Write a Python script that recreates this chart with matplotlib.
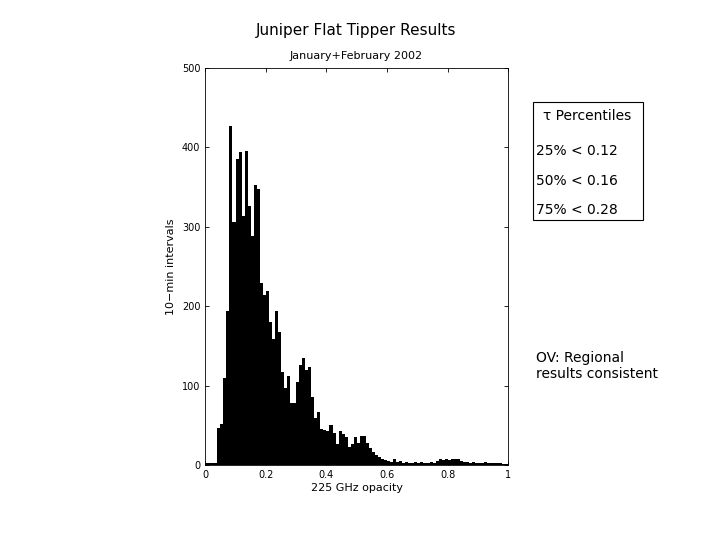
import numpy as np
import matplotlib
matplotlib.use('Agg')
import matplotlib.pyplot as plt

# histogram counts per 0.01 bin of 225 GHz opacity, 0.00 .. 0.99
counts = [2, 2, 2, 2, 47, 52, 109, 194, 427, 306,
          385, 394, 314, 396, 326, 288, 353, 348, 229, 214,
          219, 180, 159, 194, 167, 117, 97, 112, 78, 78,
          104, 126, 135, 120, 124, 86, 59, 67, 45, 44,
          43, 50, 40, 26, 43, 39, 35, 22, 26, 35,
          28, 37, 37, 28, 21, 16, 12, 10, 8, 6,
          5, 4, 8, 4, 5, 3, 4, 3, 3, 4,
          3, 4, 3, 3, 4, 3, 5, 7, 6, 8,
          6, 8, 8, 7, 5, 4, 4, 3, 4, 3,
          3, 2, 4, 2, 3, 2, 2, 3, 1, 1]
bin_width = 0.01
edges = np.arange(len(counts)) * bin_width

fig = plt.figure(figsize=(7.2, 5.4), dpi=100)
ax = fig.add_axes([0.285, 0.139, 0.421, 0.735])
ax.bar(edges, counts, width=bin_width, align='edge', color='black', linewidth=0)
ax.set_xlim(0, 1)
ax.set_ylim(0, 500)
ax.set_xticks([0, 0.2, 0.4, 0.6, 0.8, 1])
ax.set_xticklabels(['0', '0.2', '0.4', '0.6', '0.8', '1'])
ax.set_yticks([0, 100, 200, 300, 400, 500])
ax.tick_params(direction='in', top=True, right=True, labelsize=7, length=3, width=0.6)
for s in ax.spines.values():
    s.set_linewidth(0.6)
ax.set_xlabel('225 GHz opacity', fontsize=8, labelpad=2)
ax.set_ylabel('10\u2212min intervals', fontsize=8, labelpad=4)
fig.text(0.495, 0.935, 'Juniper Flat Tipper Results', ha='center', fontsize=11)
fig.text(0.495, 0.89, 'January+February 2002', ha='center', fontsize=8)

fig.patches.append(plt.Rectangle((0.74, 0.593), 0.153, 0.218, transform=fig.transFigure,
                                 fill=False, edgecolor='black', linewidth=0.8))
fig.text(0.816, 0.778, '\u03c4 Percentiles', ha='center', fontsize=10, family='DejaVu Sans')
perc = ['25% < 0.12', '50% < 0.16', '75% < 0.28']
for i, p in enumerate(perc):
    fig.text(0.744, 0.713 - i * 0.055, p, fontsize=10)
fig.text(0.744, 0.30, 'OV: Regional\nresults consistent', fontsize=10, linespacing=1.2)
fig.savefig('out.png')
